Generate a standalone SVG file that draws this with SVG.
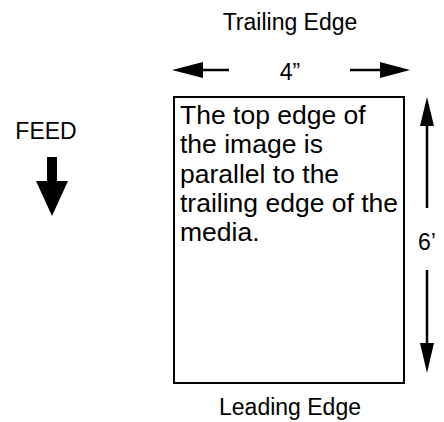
<svg xmlns="http://www.w3.org/2000/svg" width="444" height="422" viewBox="0 0 444 422">
<style>
text{font-family:"Liberation Sans",Arial,sans-serif;fill:#000}
.lbl{font-size:23px}
.body{font-size:26.5px}
.ln{stroke:#000;stroke-width:2.5;fill:none}
.hd{fill:#000;stroke:none}
</style>
<rect width="444" height="422" fill="#fff"/>
<g id="title-trailing"><text class="lbl" x="290" y="30" text-anchor="middle">Trailing Edge</text></g>
<g id="media">
<rect x="174" y="97" width="230" height="286" fill="#fff" stroke="#000" stroke-width="2"/>
<text class="body" x="180" y="124">The top edge of</text>
<text class="body" x="180" y="153">the image is</text>
<text class="body" x="180" y="183">parallel to the</text>
<text class="body" x="180" y="212">trailing edge of the</text>
<text class="body" x="180" y="241">media.</text>
</g>
<g id="title-leading"><text class="lbl" x="290" y="415" text-anchor="middle">Leading Edge</text></g>
<g id="feed"><text class="lbl" x="46" y="139" text-anchor="middle">FEED</text></g>
<g id="width-label"><text class="lbl" x="290" y="80" text-anchor="middle">4”</text></g>
<g id="height-label"><text class="lbl" x="418" y="250">6’</text></g>
<g id="connectors">
<line class="ln" x1="202" y1="70" x2="229" y2="70"/>
<polygon class="hd" points="172,70 203,62 203,78"/>
<line class="ln" x1="350" y1="70" x2="381" y2="70"/>
<polygon class="hd" points="410,70 380,62 380,78"/>
<line class="ln" x1="427" y1="124" x2="427" y2="208"/>
<polygon class="hd" points="427,97 420,126 434,126"/>
<line class="ln" x1="427" y1="270" x2="427" y2="345"/>
<polygon class="hd" points="427,373 420,343 434,343"/>
<rect class="hd" x="47" y="157" width="10" height="25"/>
<polygon class="hd" points="52,216 36,181 68,181"/>
</g>
</svg>
